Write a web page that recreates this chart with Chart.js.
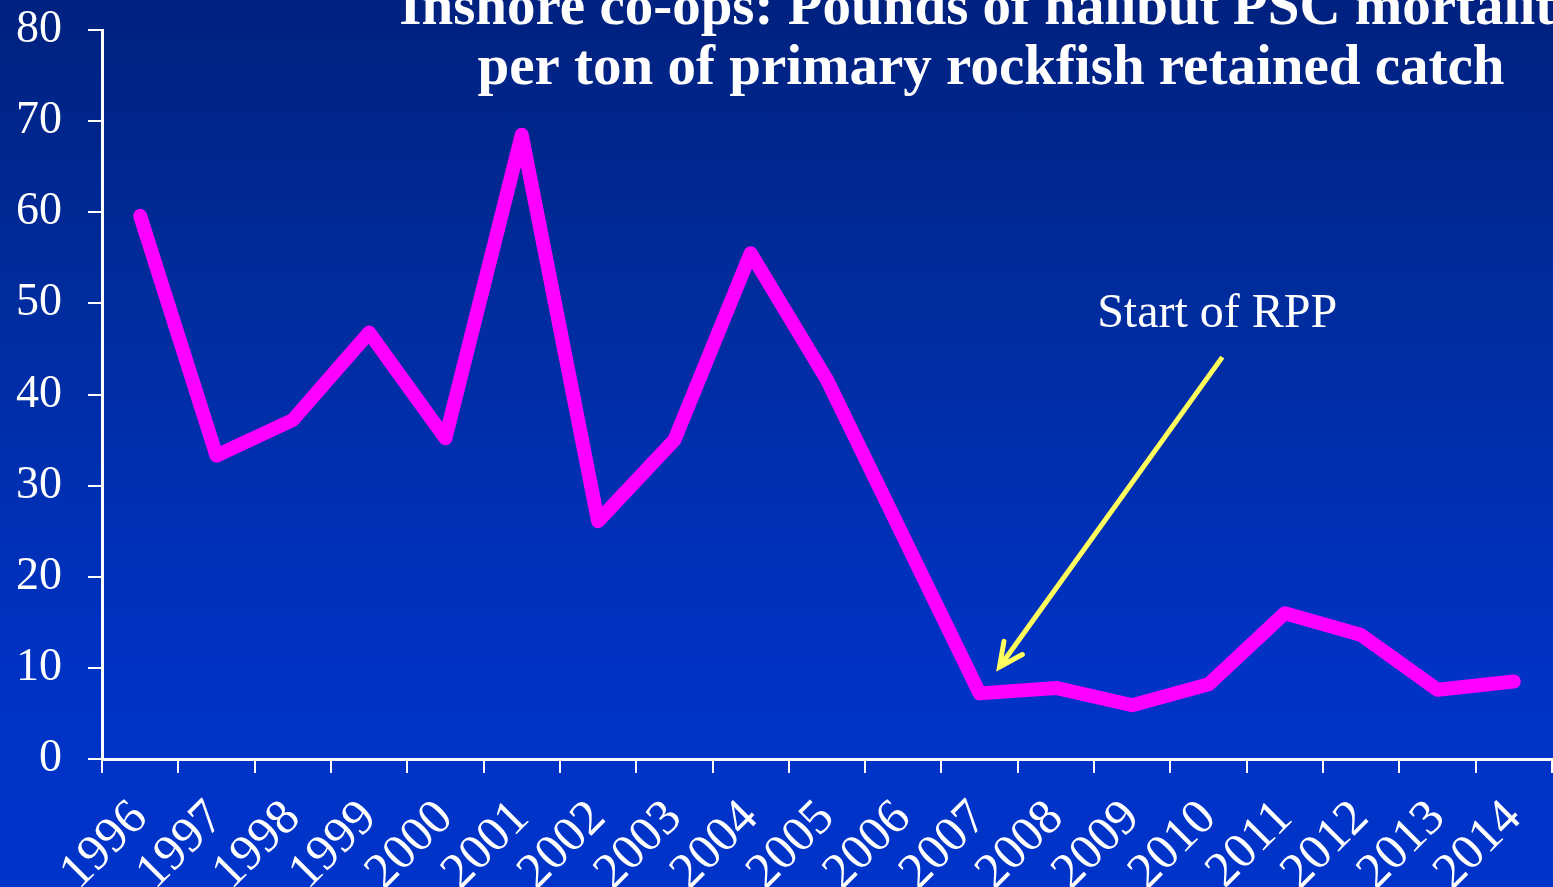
<!DOCTYPE html>
<html>
<head>
<meta charset="utf-8">
<script src="https://cdn.jsdelivr.net/npm/chart.js@4/dist/chart.umd.min.js"></script>
<style>
    html, body { margin: 0; padding: 0; }
    body {
        width: 1553px;
        height: 887px;
        overflow: hidden;
        background: linear-gradient(to bottom, #00217f 0%, #002c9e 35%, #0032c4 75%, #0033c9 100%);
    }
    #wrap { position: relative; width: 1553px; height: 887px; }
    canvas { display: block; }
</style>
</head>
<body>
<div id="wrap"><canvas id="lineChart" width="1553" height="887"></canvas></div>
<script>
// ==========================================================================
// Data
// ==========================================================================

const years = ['1996', '1997', '1998', '1999', '2000', '2001', '2002', '2003', '2004', '2005',
               '2006', '2007', '2008', '2009', '2010', '2011', '2012', '2013', '2014'];
const halibutPerTon = [59.6, 33.3, 37.2, 46.8, 35.2, 68.5, 26.1, 35.0, 55.5, 41.6,
                       24.4, 7.2, 7.8, 5.9, 8.2, 16.0, 13.6, 7.6, 8.5];
const yTicks = [0, 10, 20, 30, 40, 50, 60, 70, 80];

const titleLines = [
    'Inshore co-ops: Pounds of halibut PSC mortality',
    'per ton of primary rockfish retained catch'
];
const noteText = 'Start of RPP';

const SERIF = "'Liberation Serif', 'Times New Roman', serif";

// annotation anchors in data space (category index, value)
const noteAnchor = { x: 12.54, y: 47.4 };
const arrowTail = { x: 14.18, y: 44.1 };
const arrowTip = { x: 11.26, y: 10.1 };

// ==========================================================================
// Title + annotation plugin
// ==========================================================================

const overlayPlugin = {
    id: 'overlay',
    afterDraw(chart) {
        const ctx = chart.ctx;
        const xs = chart.scales.x;
        const ys = chart.scales.y;
        ctx.save();

        // title
        ctx.fillStyle = '#ffffff';
        ctx.font = 'bold 57px ' + SERIF;
        ctx.textAlign = 'center';
        ctx.textBaseline = 'alphabetic';
        ctx.fillText(titleLines[0], 991, 24);
        ctx.fillText(titleLines[1], 991, 84);

        // note text
        ctx.font = '48px ' + SERIF;
        ctx.textAlign = 'left';
        ctx.fillText(noteText, xs.getPixelForValue(noteAnchor.x), ys.getPixelForValue(noteAnchor.y));

        // arrow
        const x0 = xs.getPixelForValue(arrowTail.x), y0 = ys.getPixelForValue(arrowTail.y);
        const x1 = xs.getPixelForValue(arrowTip.x), y1 = ys.getPixelForValue(arrowTip.y);
        ctx.strokeStyle = '#ffff5e';
        ctx.lineWidth = 5;
        ctx.lineCap = 'butt';
        ctx.beginPath();
        ctx.moveTo(x0, y0);
        ctx.lineTo(x1, y1);
        ctx.stroke();

        const ang = Math.atan2(y1 - y0, x1 - x0);
        const head = 26, spread = 0.45;
        ctx.lineCap = 'round';
        ctx.beginPath();
        ctx.moveTo(x1 - head * Math.cos(ang - spread), y1 - head * Math.sin(ang - spread));
        ctx.lineTo(x1, y1);
        ctx.lineTo(x1 - head * Math.cos(ang + spread), y1 - head * Math.sin(ang + spread));
        ctx.stroke();

        ctx.restore();
    }
};

// ==========================================================================
// Chart
// ==========================================================================

const ctx = document.getElementById('lineChart');

new Chart(ctx.getContext('2d'), {
    type: 'line',
    data: {
        labels: years,
        datasets: [{
            label: 'Halibut PSC mortality per ton',
            data: halibutPerTon,
            borderColor: '#ff00ff',
            backgroundColor: '#ff00ff',
            borderWidth: 14,
            borderCapStyle: 'round',
            borderJoinStyle: 'round',
            pointRadius: 0,
            tension: 0
        }]
    },
    options: {
        responsive: false,
        animation: false,
        devicePixelRatio: 1,
        layout: {
            padding: { top: 30, right: 1, left: 0, bottom: 0 }
        },
        scales: {
            x: {
                offset: true,
                grid: {
                    offset: true,
                    drawOnChartArea: false,
                    color: '#ffffff',
                    tickLength: 14,
                    lineWidth: 2
                },
                border: { color: '#ffffff', width: 3 },
                ticks: {
                    color: '#ffffff',
                    autoSkip: false,
                    minRotation: 45,
                    maxRotation: 45,
                    padding: 16,
                    font: { family: SERIF, size: 50 }
                },
                afterFit(scale) {
                    scale.height = 128;
                    scale.paddingLeft = 0;
                    scale.paddingRight = 0;
                }
            },
            y: {
                min: 0,
                max: 80,
                afterBuildTicks(scale) {
                    scale.ticks = yTicks.map(v => ({ value: v }));
                },
                grid: {
                    drawOnChartArea: false,
                    color: '#ffffff',
                    tickLength: 14,
                    lineWidth: 2
                },
                border: { color: '#ffffff', width: 3 },
                ticks: {
                    color: '#ffffff',
                    padding: 26,
                    font: { family: SERIF, size: 46 }
                },
                afterFit(scale) {
                    scale.width = 102;
                    scale.paddingTop = 0;
                    scale.paddingBottom = 0;
                }
            }
        },
        plugins: {
            legend: { display: false },
            tooltip: { enabled: false },
            title: { display: false }
        }
    },
    plugins: [overlayPlugin]
});
</script>
</body>
</html>
